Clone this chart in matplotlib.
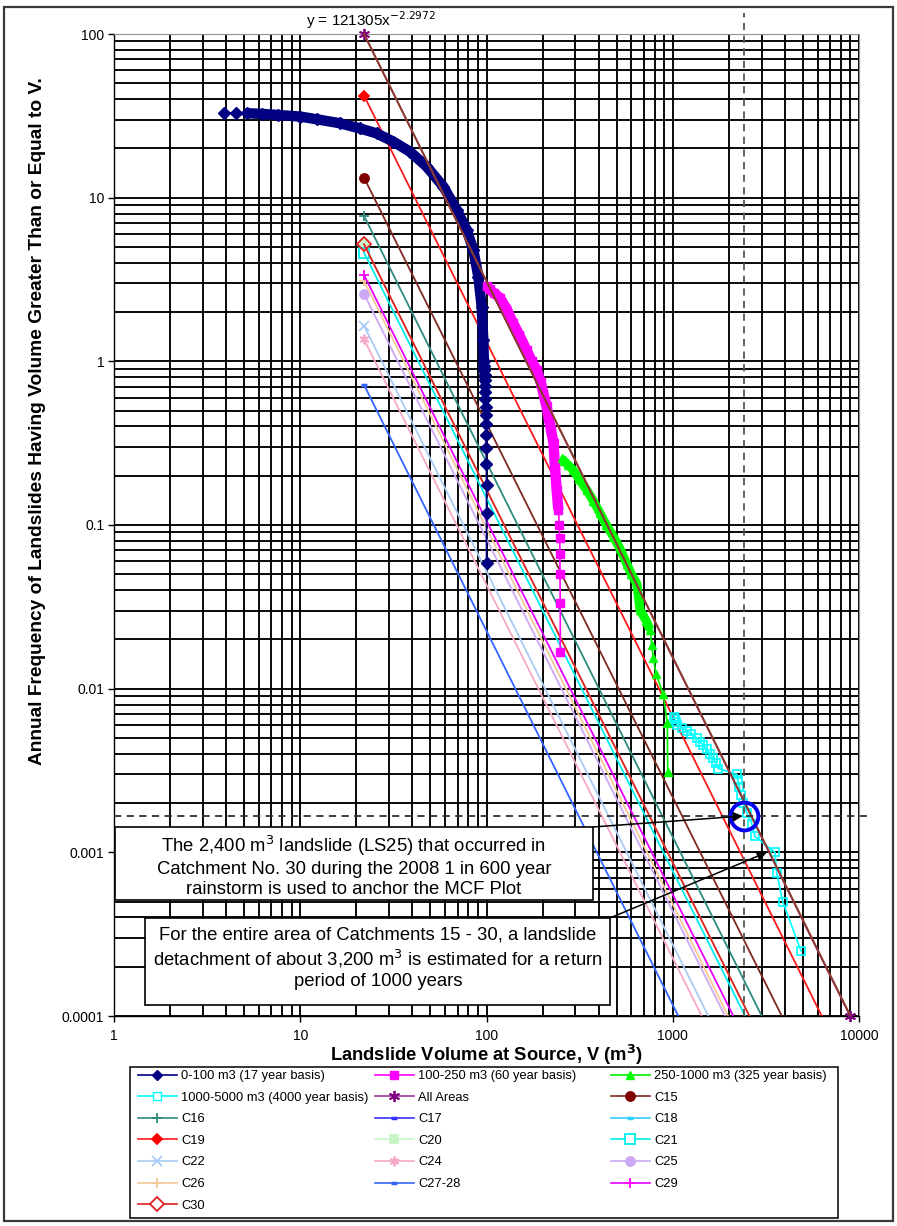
import matplotlib
matplotlib.use("Agg")
import matplotlib.pyplot as plt
from matplotlib.lines import Line2D
from matplotlib.patches import Rectangle
from matplotlib.ticker import FixedLocator

plt.rcParams['font.family'] = ['Liberation Sans', 'DejaVu Sans']

# ---------------------------------------------------------------------------
# Cumulative annual frequency of landslides with volume >= V
# ---------------------------------------------------------------------------
# 0-100 m3 inventory (17 year basis)
vol_0_100 = [3.9, 4.5, 5.2, 6.2, 7.6, 10.0, 12.3, 16.3, 20.9, 25.7, 31.6, 38.8,
             47.7, 58.6, 69.2, 78.3, 85.0, 90.4, 94.2, 96.1, 96.8, 97.2, 97.5,
             97.8, 98.0, 98.2, 98.4, 98.6, 98.8, 99.0, 99.2, 99.4, 99.6, 99.8,
             100.0, 100.0, 100.0]
freq_0_100 = [33.0, 33.0, 32.8, 32.5, 32.0, 31.3, 30.1, 28.5, 26.5, 24.7, 22.0,
              19.1, 15.5, 11.7, 8.41, 6.35, 4.79, 3.29, 2.16, 1.35, 1.0, 0.941,
              0.882, 0.824, 0.765, 0.706, 0.647, 0.588, 0.529, 0.471, 0.412,
              0.353, 0.294, 0.235, 0.176, 0.118, 0.0588]

# 100-250 m3 inventory (60 year basis)
vol_100_250 = [100, 104, 110, 118, 128, 139, 150, 164, 175, 186, 195, 202, 210,
               215, 222, 229, 233, 238, 243, 246, 247, 248, 248, 249, 249]
freq_100_250 = [2.9, 2.75, 2.6, 2.45, 2.1, 1.71, 1.45, 1.17, 1.0, 0.886, 0.75,
                0.638, 0.53, 0.459, 0.38, 0.316, 0.228, 0.164, 0.124, 0.1,
                0.0833, 0.0667, 0.05, 0.0333, 0.0167]

# 250-1000 m3 inventory (325 year basis)
vol_250_1000 = [253, 262, 275, 292, 315, 345, 375, 407, 440, 480, 520, 566, 600,
                640, 655, 667, 720, 755, 771, 787, 813, 889, 935, 940]
freq_250_1000 = [0.256, 0.245, 0.232, 0.217, 0.19, 0.164, 0.14, 0.118, 0.1,
                 0.085, 0.072, 0.058, 0.05, 0.044, 0.036, 0.0303, 0.026, 0.0229,
                 0.0185, 0.0154, 0.0123, 0.00923, 0.00615, 0.00308]

# 1000-5000 m3 inventory (4000 year basis)
vol_1000_5000 = [1016, 1025, 1042, 1060, 1120, 1197, 1260, 1345, 1400, 1459,
                 1520, 1580, 1650, 1700, 1757, 2205, 2240, 2277, 2330, 2392,
                 2495, 2654, 2765, 3540, 3614, 3893, 4883]
freq_1000_5000 = [0.00675, 0.0065, 0.00625, 0.006, 0.00575, 0.0055, 0.00525,
                  0.005, 0.00475, 0.0045, 0.00425, 0.004, 0.00375, 0.0035,
                  0.00325, 0.003, 0.00275, 0.0025, 0.00225, 0.002, 0.00175,
                  0.0015, 0.00125, 0.001, 0.00075, 0.0005, 0.00025]

# All areas: end points of the fitted magnitude-frequency line
vol_all = [22, 8950]
freq_all = [100, 0.0001]
fit_coef = 121305
fit_exp = -2.2972

# Catchment lines: frequency at V = 22 m3, and volume at which frequency = 1e-4
catchments = ["C15", "C16", "C17", "C18", "C19", "C20", "C21", "C22", "C24",
              "C25", "C26", "C27-28", "C29", "C30"]
catch_v0 = 22
catch_f0 = [13.25, 7.73, None, None, 42.0, 5.2, 4.61, 1.65, 1.36, 2.58, 3.1,
            0.718, 3.37, 5.19]
catch_v1 = [3849, 3004, None, None, 6310, 2579, 2446, 1552, 1430, 1909, 1982,
            1071, 2115, 2579]
catch_f1 = 0.0001

# Reference event and design event
ref_volume = 2400
ref_freq = 1 / 600
design_volume = 3200
design_freq = 1 / 1000

xticks = [1, 10, 100, 1000, 10000]
xtick_labels = ["1", "10", "100", "1000", "10000"]
yticks = [0.0001, 0.001, 0.01, 0.1, 1, 10, 100]
ytick_labels = ["0.0001", "0.001", "0.01", "0.1", "1", "10", "100"]

# ---------------------------------------------------------------------------
W, H, DPI = 897, 1226, 100
fig = plt.figure(figsize=(W / DPI, H / DPI), dpi=DPI)
fig.patch.set_facecolor("white")


def fx(px):
    return px / W


def fy(py):
    return 1 - py / H


ax = fig.add_axes([fx(114), fy(1016), fx(859) - fx(114), fy(34) - fy(1016)])
ax.set_xscale("log")
ax.set_yscale("log")
ax.set_xlim(1, 10000)
ax.set_ylim(0.0001, 100)

ax.grid(which="both", color="black", lw=1.35, zorder=0)
ax.set_axisbelow(True)
ax.xaxis.set_major_locator(FixedLocator(xticks))
ax.yaxis.set_major_locator(FixedLocator(yticks))
ax.set_xticklabels(xtick_labels)
ax.set_yticklabels(ytick_labels)
ax.tick_params(which="major", direction="out", length=4, width=1, labelsize=10,
               colors="black")
ax.tick_params(axis="x", pad=5)
ax.tick_params(axis="y", pad=3)
ax.tick_params(which="minor", length=0)
for s in ("top", "right"):
    ax.spines[s].set_color("#909090")
for s in ("left", "bottom"):
    ax.spines[s].set_color("black")
    ax.spines[s].set_linewidth(1.0)

# catchment styles
cstyle = {
    "C15": dict(color="#7E2A22", marker="o", mfc="#800000", mec="#800000", ms=6.5),
    "C16": dict(color="#2E8B7E", marker="+", mfc="#2E8B7E", mec="#2E8B7E", ms=7),
    "C17": dict(color="#3333FF", marker="_", mfc="#3333FF", mec="#3333FF", ms=5, mew=2.5),
    "C18": dict(color="#33CCFF", marker="_", mfc="#33CCFF", mec="#33CCFF", ms=5, mew=2.5),
    "C19": dict(color="#FF1A1A", marker="D", mfc="#FF0000", mec="#FF0000", ms=5.5),
    "C20": dict(color="#C8F5C8", marker="s", mfc="#C8F5C8", mec="#C8F5C8", ms=5.5),
    "C21": dict(color="#00EEEE", marker="s", mfc="none", mec="#00EEEE", ms=6.5),
    "C22": dict(color="#A8CCF5", marker="x", mfc="#A8CCF5", mec="#A8CCF5", ms=6.5),
    "C24": dict(color="#F5A8C8", marker=(6, 2, 0), mfc="#F5A8C8", mec="#F5A8C8", ms=7),
    "C25": dict(color="#CCA8F5", marker="o", mfc="#CCA8F5", mec="#CCA8F5", ms=6.5),
    "C26": dict(color="#F5C89A", marker="+", mfc="#F5C89A", mec="#F5C89A", ms=7),
    "C27-28": dict(color="#3366FF", marker="_", mfc="#3366FF", mec="#3366FF", ms=5, mew=2.5),
    "C29": dict(color="#E600FF", marker="+", mfc="#FF00FF", mec="#FF00FF", ms=7),
    "C30": dict(color="#E02020", marker="D", mfc="none", mec="#E02020", ms=7),
}

for name, f0, v1 in zip(catchments, catch_f0, catch_v1):
    st = dict(cstyle[name])
    if f0 is None:
        continue
    st.setdefault("mew", 1.3)
    ax.plot([catch_v0, v1], [f0, catch_f1], lw=1.3, markevery=[0], zorder=2,
            clip_on=False, **st)


# empirical series: dense parts of the record drawn as solid bands
def band(xs, ys, ymin):
    return ([x for x, y in zip(xs, ys) if y >= ymin],
            [y for y in ys if y >= ymin])


bx, by = band(vol_0_100, freq_0_100, 0.74)
ax.plot(bx[2:], by[2:], color="#000080", lw=7.5, solid_capstyle="round",
        zorder=3)
ax.plot(vol_0_100, freq_0_100, color="#000080", lw=1.2, marker="D", ms=6,
        zorder=3)

bx, by = band(vol_100_250, freq_100_250, 0.11)
ax.plot(bx, by, color="#FF00FF", lw=7.5, solid_capstyle="butt", zorder=3)
ax.plot(vol_100_250, freq_100_250, color="#FF00FF", lw=1.2, marker="s", ms=6,
        zorder=3)

bx, by = band(vol_250_1000, freq_250_1000, 0.02)
ax.plot(bx, by, color="#00FF00", lw=6.5, solid_capstyle="butt", zorder=3)
ax.plot(vol_250_1000, freq_250_1000, color="#00EE00", lw=1.2, marker="^", ms=6,
        mfc="#00FF00", mec="#00FF00", zorder=3)

ax.plot(vol_1000_5000, freq_1000_5000, color="#00FFFF", lw=1.2, marker="s",
        ms=6, mfc="none", mec="#00FFFF", mew=1.2, zorder=3)

# all-areas series and its power-law fit
ax.plot(vol_all, freq_all, color="#993399", lw=1.2, marker=(6, 2, 0), ms=8,
        mec="#800080", mew=1.3, zorder=4, clip_on=False)
fit_y = [fit_coef * v ** fit_exp for v in vol_all]
ax.plot(vol_all, fit_y, color="#8B3A2A", lw=1.4, zorder=4.5, clip_on=False)

# reference event guides
ax.plot([1, 11500], [ref_freq, ref_freq], color="#303030", lw=1.3,
        ls=(0, (4, 3)), zorder=5, clip_on=False)
ax.plot([ref_volume, ref_volume], [0.0001, 135], color="#555555", lw=1.3,
        ls=(0, (4, 3)), zorder=5, clip_on=False)
ax.plot([ref_volume], [ref_freq], marker="o", ms=20, mfc="none", mec="#0000EE",
        mew=2.8, zorder=6)

# annotation boxes
box_kw = dict(facecolor="white", edgecolor="black", lw=1.2)
fig.add_artist(Rectangle((fx(115), fy(900)), fx(593) - fx(115),
                         fy(827) - fy(900), transform=fig.transFigure,
                         zorder=5, **box_kw))
fig.add_artist(Rectangle((fx(145), fy(1005)), fx(610) - fx(145),
                         fy(918) - fy(1005), transform=fig.transFigure,
                         zorder=5, **box_kw))
fig.text(fx(354), fy(866),
         "The 2,400 m$^3$ landslide (LS25) that occurred in\n"
         "Catchment No. 30 during the 2008 1 in 600 year\n"
         "rainstorm is used to anchor the MCF Plot",
         ha="center", va="center", fontsize=13.3, linespacing=1.22, zorder=6)
fig.text(fx(378), fy(958),
         "For the entire area of Catchments 15 - 30, a landslide\n"
         "detachment of about 3,200 m$^3$ is estimated for a return\n"
         "period of 1000 years",
         ha="center", va="center", fontsize=13.3, linespacing=1.25, zorder=6)

arrow_kw = dict(arrowstyle="-|>", color="black", lw=1.1, mutation_scale=14,
                shrinkA=0, shrinkB=0)
ax.annotate("", xy=(ref_volume * 0.99, ref_freq), xycoords="data",
            xytext=(fx(593), fy(827)), textcoords="figure fraction",
            arrowprops=arrow_kw, zorder=7, annotation_clip=False)
ax.annotate("", xy=(design_volume, design_freq), xycoords="data",
            xytext=(fx(610), fy(918)), textcoords="figure fraction",
            arrowprops=arrow_kw, zorder=7, annotation_clip=False)

# titles
fig.text(fx(371), fy(20), "y = 121305x$^{-2.2972}$", ha="center", va="center",
         fontsize=11)
fig.text(fx(486), fy(1055), "Landslide Volume at Source, V (m$^{\\mathbf{3}}$)",
         ha="center", va="center", fontsize=13.2, fontweight="bold")
fig.text(fx(38), fy(421),
         "Annual Frequency of Landslides Having Volume Greater Than or Equal to V.",
         ha="center", va="center", rotation=90, fontsize=13.8, fontweight="bold")


# legend (three fixed-width columns inside a single frame)
def handle(label, **kw):
    kw.setdefault("lw", 1.2)
    return Line2D([], [], label=label, **kw)


h = {
    "0-100 m3 (17 year basis)": handle("0-100 m3 (17 year basis)", color="#000080", marker="D", ms=5.5),
    "100-250 m3 (60 year basis)": handle("100-250 m3 (60 year basis)", color="#FF00FF", marker="s", ms=6),
    "250-1000 m3 (325 year basis)": handle("250-1000 m3 (325 year basis)", color="#00EE00", marker="^", ms=6, mfc="#00FF00", mec="#00FF00"),
    "1000-5000 m3 (4000 year basis)": handle("1000-5000 m3 (4000 year basis)", color="#00FFFF", marker="s", ms=6, mfc="white", mec="#00FFFF"),
    "All Areas": handle("All Areas", color="#993399", marker=(6, 2, 0), ms=8, mec="#800080", mew=1.3),
}
for name in catchments:
    st = dict(cstyle[name])
    st.setdefault("mew", 1.3)
    if st.get("mfc") == "none":
        st["mfc"] = "white"
    h[name] = handle(name, **st)

columns = [
    ["0-100 m3 (17 year basis)", "1000-5000 m3 (4000 year basis)", "C16", "C19",
     "C22", "C26", "C30"],
    ["100-250 m3 (60 year basis)", "All Areas", "C17", "C20", "C24", "C27-28"],
    ["250-1000 m3 (325 year basis)", "C15", "C18", "C21", "C25", "C29"],
]
col_x = [138, 375, 611]
for xs, names in zip(col_x, columns):
    fig.legend(handles=[h[n] for n in names], loc="upper left",
               bbox_to_anchor=(fx(xs), fy(1070)), frameon=False, fontsize=9.3,
               handlelength=3.0, handletextpad=0.35, labelspacing=0.74,
               borderpad=0, borderaxespad=0, numpoints=1)
fig.add_artist(Rectangle((fx(130), fy(1218)), fx(838) - fx(130),
                         fy(1067) - fy(1218), transform=fig.transFigure,
                         facecolor="none", edgecolor="black", lw=1.1))

# outer chart frame
fig.add_artist(Rectangle((fx(4), fy(1221)), fx(893) - fx(4), fy(7) - fy(1221),
                         transform=fig.transFigure, facecolor="none",
                         edgecolor="#3A3A3A", lw=1.6))

fig.savefig("out.png", dpi=DPI, facecolor="white")
